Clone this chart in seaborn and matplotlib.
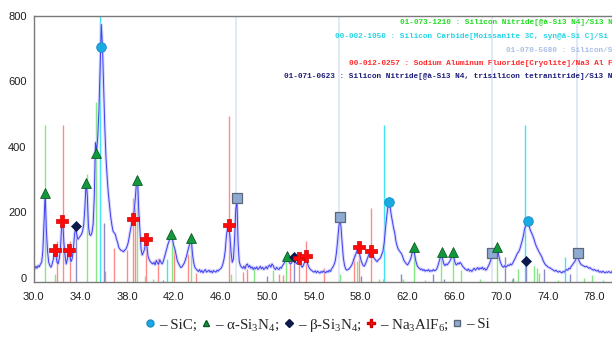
import numpy as np
import pandas as pd
import matplotlib
matplotlib.use("Agg")
import matplotlib.pyplot as plt
from matplotlib.lines import Line2D
import seaborn as sns

# ---- measured diffractogram (2-theta from 30.0 in 0.1 deg steps) ----
two_theta = [round(30.0 + 0.1 * i, 1) for i in range(501)]
counts = [
    45, 40, 48, 42, 50, 46, 55, 60, 95, 185,
    270, 160, 95, 60, 50, 45, 55, 70, 92, 85,
    62, 55, 70, 100, 165, 185, 120, 80, 55, 70,
    95, 80, 62, 70, 95, 140, 168, 145, 130, 135,
    140, 145, 155, 175, 230, 305, 265, 170, 145, 142,
    150, 175, 260, 425, 400, 445, 525, 650, 785, 720,
    600, 470, 380, 320, 270, 235, 200, 175, 155, 150,
    145, 130, 120, 105, 100, 96, 95, 92, 97, 100,
    108, 120, 140, 160, 178, 195, 215, 250, 300, 318,
    220, 160, 100, 82, 90, 100, 128, 110, 78, 68,
    62, 58, 55, 60, 52, 66, 58, 54, 68, 60,
    55, 62, 75, 88, 100, 115, 125, 138, 145, 130,
    110, 100, 82, 65, 57, 50, 44, 46, 52, 58,
    68, 80, 95, 108, 122, 130, 85, 60, 45, 40,
    36, 32, 38, 30, 35, 28, 34, 38, 30, 33,
    36, 30, 34, 28, 35, 32, 30, 36, 33, 38,
    40, 45, 55, 70, 95, 140, 165, 172, 140, 90,
    60, 70, 130, 220, 250, 120, 62, 50, 45, 42,
    48, 40, 52, 55, 45, 50, 42, 46, 38, 44,
    40, 46, 38, 42, 48, 40, 45, 38, 42, 47,
    40, 48, 52, 45, 55, 50, 42, 38, 45, 40,
    38, 45, 42, 50, 55, 62, 70, 78, 65, 58,
    55, 60, 68, 70, 60, 56, 62, 72, 60, 50,
    45, 52, 62, 78, 62, 50, 42, 38, 35, 32,
    30, 34, 28, 33, 30, 27, 32, 29, 34, 30,
    28, 33, 30, 36, 32, 40, 45, 52, 62, 85,
    120, 160, 195, 170, 120, 75, 52, 40, 36, 38,
    40, 45, 50, 58, 70, 78, 88, 98, 105, 85,
    68, 58, 50, 48, 55, 65, 75, 85, 92, 95,
    85, 75, 70, 65, 62, 68, 70, 75, 85, 95,
    120, 160, 195, 225, 240, 230, 205, 185, 165, 150,
    125, 110, 100, 95, 90, 85, 75, 65, 60, 55,
    52, 58, 65, 75, 90, 105, 85, 65, 52, 45,
    42, 38, 40, 35, 38, 33, 36, 34, 38, 32,
    35, 33, 38, 34, 36, 40, 50, 62, 75, 88,
    70, 55, 50, 55, 52, 58, 62, 70, 80, 88,
    68, 55, 52, 58, 55, 60, 55, 48, 45, 40,
    38, 35, 40, 33, 36, 32, 38, 42, 36, 40,
    44, 38, 43, 40, 45, 38, 42, 36, 40, 48,
    55, 65, 80, 85, 75, 80, 95, 100, 80, 65,
    55, 48, 45, 50, 45, 48, 52, 50, 55, 52,
    58, 65, 72, 80, 88, 92, 100, 112, 125, 140,
    160, 172, 180, 185, 170, 158, 150, 142, 132, 120,
    110, 102, 95, 88, 82, 75, 65, 58, 52, 50,
    46, 44, 43, 40, 38, 35, 33, 36, 32, 30,
    33, 30, 28, 32, 30, 35, 38, 36, 42, 40,
    48, 52, 58, 62, 70, 78, 72, 62, 55, 52,
    50, 48, 46, 48, 45, 42, 44, 40, 38, 36,
    38, 35, 33, 36, 30, 32, 29, 33, 30, 28,
    31, 29, 32, 30, 28, 33, 30, 32, 29, 31,
    33,
]

# ---- reference pattern sticks (position, relative height) ----
si_pos = [47.3, 56.16, 69.2, 76.46]
si_h = [811, 811, 811, 811]

sic_pos = [35.66, 41.4, 60.02, 72.08, 75.45]
sic_h = [811, 70, 480, 480, 75]

alpha_pos = [31.0, 31.83, 34.55, 35.32, 38.85, 39.55, 40.23, 41.86, 43.5,
             46.87, 48.88, 50.52, 51.62, 56.24, 57.67, 59.53, 59.88, 61.59,
             62.53, 63.53, 64.9, 65.9, 66.53, 68.16, 69.62, 70.9, 71.45,
             72.82, 73.05, 73.25, 74.83, 77.05, 77.74, 78.71]
alpha_h = [480, 24, 328, 550, 312, 18, 10, 140, 128,
           24, 40, 36, 75, 24, 63, 10, 9, 9,
           104, 6, 89, 89, 38, 10, 104, 9, 41,
           50, 43, 28, 6, 13, 21, 6]

naf_pos = [31.97, 32.52, 33.1, 36.15, 36.9, 38.03, 38.5, 38.65, 39.63,
           40.66, 41.98, 43.23, 43.9, 46.75, 47.88, 48.3, 50.98, 51.38,
           51.9, 52.7, 53.33, 54.87, 57.44, 57.84, 58.87]
naf_h = [126, 480, 126, 33, 104, 98, 255, 225, 133,
         73, 100, 85, 26, 505, 30, 40, 25, 21,
         63, 72, 126, 43, 85, 109, 227]

beta_pos = [33.64, 36.05, 41.09, 49.95, 52.27, 58.04, 61.47, 64.16, 65.1,
            70.3, 71.0, 72.14, 73.66, 75.91]
beta_h = [172, 179, 5, 18, 73, 18, 24, 24, 9, 75, 12, 66, 40, 25]

# ---- identified peak symbols ----
sic_mk_x = [35.8, 60.45, 72.34]
sic_mk_y = [715, 243, 186]
alpha_mk_x = [30.97, 34.5, 35.34, 38.86, 41.78, 43.46, 51.7, 62.53, 64.93, 65.9, 69.68]
alpha_mk_y = [270, 303, 393, 312, 147, 135, 80, 107, 90, 90, 107]
beta_mk_x = [33.6, 52.27, 72.1]
beta_mk_y = [172, 75, 63]
naf_mk_x = [31.83, 32.43, 33.0, 38.49, 39.63, 46.69, 52.73, 53.35, 57.81, 58.9]
naf_mk_y = [97, 186, 97, 192, 131, 173, 72, 79, 107, 95]
si_mk_x = [47.38, 56.24, 69.23, 76.6]
si_mk_y = [256, 199, 89, 89]

# ---- card labels (the long lines run past the right edge of the figure) ----
card_texts = [
    "01-073-1210 : Silicon Nitride[@à-Si3 N4]/Si3 N4",
    "00-002-1050 : Silicon Carbide[Moissanite 3C, syn@â-Si C]/Si C",
    "01-070-5680 : Silicon/Si",
    "00-012-0257 : Sodium Aluminum Fluoride[Cryolite]/Na3 Al F6",
    "01-071-0623 : Silicon Nitride[@à-Si3 N4, trisilicon tetranitride]/Si3 N4",
]
card_colors = ["#22dd22", "#22d6e6", "#a9bfe6", "#ff2a2a", "#1c1c78"]

x_ticks = [30, 34, 38, 42, 46, 50, 54, 58, 62, 66, 70, 74, 78]
y_ticks = [0, 200, 400, 600, 800]

sns.set_theme(style="white")
plt.rcParams["font.family"] = ["Liberation Sans", "DejaVu Sans"]
plt.rcParams["mathtext.fontset"] = "custom"
plt.rcParams["mathtext.rm"] = "Liberation Serif"
plt.rcParams["mathtext.default"] = "rm"

fig = plt.figure(figsize=(6.12, 3.45), dpi=100)
ax = fig.add_axes([33.5 / 612, 63 / 345, 584.5 / 612, 266 / 345])

# stick patterns
ax.vlines(si_pos, 0, si_h, color="#dce5f6", lw=1.2, zorder=1)
ax.vlines(sic_pos, 0, sic_h, color="#3fe6f0", lw=1.0, zorder=1.2)
ax.vlines(alpha_pos, 0, alpha_h, color="#84e884", lw=1.0, zorder=1.3)
ax.vlines(naf_pos, 0, naf_h, color="#ff8a8a", lw=1.0, zorder=1.3)
ax.vlines(beta_pos, 0, beta_h, color="#8a8ac8", lw=1.0, zorder=1.3)

# diffractogram
df = pd.DataFrame({"two_theta": two_theta, "counts": counts})
sns.lineplot(data=df, x="two_theta", y="counts", ax=ax, color="#c6c6ff",
             lw=2.2, alpha=0.7, estimator=None, sort=False, zorder=2)
sns.lineplot(data=df, x="two_theta", y="counts", ax=ax, color="#4040f0",
             lw=0.7, estimator=None, sort=False, zorder=2.1)

# phase markers
sns.scatterplot(x=si_mk_x, y=si_mk_y, ax=ax, marker="s", s=58,
                color="#8eaad2", edgecolor="#5c6878", linewidth=0.9, zorder=4)
sns.scatterplot(x=sic_mk_x, y=sic_mk_y, ax=ax, marker="o", s=48,
                color="#1aaae2", edgecolor="#1a8cc8", linewidth=0.6, zorder=4)
sns.scatterplot(x=alpha_mk_x, y=alpha_mk_y, ax=ax, marker="^", s=50,
                color="#12993c", edgecolor="#0b5a24", linewidth=0.6, zorder=4)
sns.scatterplot(x=beta_mk_x, y=beta_mk_y, ax=ax, marker="D", s=26,
                color="#0b1a4a", edgecolor="#0b1a4a", linewidth=0.5, zorder=4)
sns.scatterplot(x=naf_mk_x, y=naf_mk_y, ax=ax, marker="P", s=68,
                color="#ff0a0a", edgecolor="#d00000", linewidth=0.5, zorder=4)

ax.set_xlim(30, 80)
ax.set_ylim(0, 811)
ax.set_xlabel("")
ax.set_ylabel("")
ax.set_xticks(x_ticks)
ax.set_xticklabels([f"{v:.1f}" for v in x_ticks], fontsize=8, color="#202020")
ax.set_xticks(np.arange(32, 80, 4), minor=True)
ax.set_yticks(y_ticks)
ax.set_yticklabels([str(v) for v in y_ticks], fontsize=8, color="#202020",
                   va="baseline")
ax.set_yticks([100, 300, 500, 700], minor=True)
ax.tick_params(axis="both", which="both", direction="out", color="#606060",
               width=0.8, pad=3)
ax.tick_params(axis="both", which="major", length=4)
ax.tick_params(axis="both", which="minor", length=3)
ax.tick_params(axis="y", pad=1)
for side in ["left", "bottom", "top"]:
    ax.spines[side].set_color("#7a7a7a")
    ax.spines[side].set_linewidth(1.0)
ax.spines["right"].set_visible(False)

# card annotations
card_y = [23, 36.5, 50, 63.3, 76.7]
for txt, col, yy in zip(card_texts, card_colors, card_y):
    fig.text(617 / 612, 1 - yy / 345, txt, ha="right", va="center",
             family="Liberation Mono", fontweight="bold", fontsize=5.6,
             color=col)

# phase key
handles = [
    Line2D([], [], ls="none", marker="o", ms=5, mfc="#1aaae2", mec="#1a8cc8"),
    Line2D([], [], ls="none", marker="^", ms=5, mfc="#12993c", mec="#0b5a24"),
    Line2D([], [], ls="none", marker="D", ms=4, mfc="#0b1a4a", mec="#0b1a4a"),
    Line2D([], [], ls="none", marker="P", ms=6, mfc="#ff0a0a", mec="#d00000"),
    Line2D([], [], ls="none", marker="s", ms=5, mfc="#8eaad2", mec="#5c6878"),
]
labels = ["– SiC;", "– α-Si$_3$N$_4$;", "– β-Si$_3$N$_4$;",
          "– Na$_3$AlF$_6$;", "– Si"]
fig.legend(handles, labels, loc="center", bbox_to_anchor=(318 / 612, 1 - 325 / 345),
           ncol=5, frameon=False, handlelength=0.6, handletextpad=0.3,
           columnspacing=0.3, borderpad=0, prop={"family": "Liberation Serif",
                                                  "size": 10.8})

fig.savefig("out.png", dpi=100, facecolor="white")
